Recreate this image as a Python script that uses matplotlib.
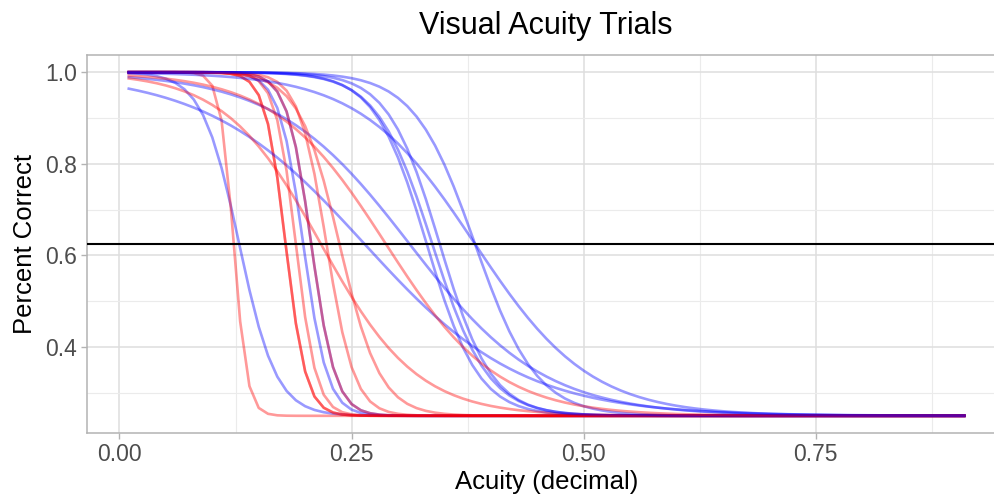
import numpy as np
import matplotlib
matplotlib.use("Agg")
import matplotlib.pyplot as plt

# Fitted psychometric functions: chance level 0.25 (4AFC), threshold at 62.5 %
red_thresholds = [0.123, 0.179, 0.179, 0.190, 0.2066, 0.217, 0.223, 0.237, 0.287]
red_scales = [0.0072, 0.011, 0.011, 0.011, 0.013, 0.052, 0.015, 0.022, 0.060]

blue_thresholds = [0.129, 0.198, 0.2066, 0.264, 0.3125, 0.331, 0.337, 0.345, 0.383, 0.383]
blue_scales = [0.020, 0.013, 0.013, 0.085, 0.072, 0.028, 0.030, 0.028, 0.033, 0.062]

acuity = np.round(np.arange(0.01, 0.9101, 0.01), 2)
chance = 0.25
criterion = 0.625


def psychometric(x, threshold, scale):
    return chance + (1 - chance) / (1 + np.exp((x - threshold) / scale))


plt.rcParams["font.family"] = ["Liberation Sans", "DejaVu Sans"]

fig = plt.figure(figsize=(9.94, 4.98), dpi=100)
ax = fig.add_axes([87 / 994, 65 / 498, 919 / 994, 378 / 498])

# draw the two conditions interleaved (blue, red, blue, ...) so shared
# stretches of the curves blend to purple
curves = []
for i in range(max(len(red_thresholds), len(blue_thresholds))):
    if i < len(blue_thresholds):
        curves.append(("blue", blue_thresholds[i], blue_scales[i]))
    if i < len(red_thresholds):
        curves.append(("red", red_thresholds[i], red_scales[i]))

for colour, t, s in curves:
    ax.plot(acuity, psychometric(acuity, t, s), color=colour, alpha=0.4, lw=1.9,
            zorder=3)

ax.axhline(criterion, color="black", lw=1.5, zorder=4)

ax.set_xlim(-0.035, 0.955)
ax.set_ylim(0.2125, 1.0375)
ax.set_xticks([0.0, 0.25, 0.5, 0.75])
ax.set_xticklabels(["0.00", "0.25", "0.50", "0.75"])
ax.set_xticks([0.125, 0.375, 0.625, 0.875], minor=True)
ax.set_yticks([0.4, 0.6, 0.8, 1.0])
ax.set_yticklabels(["0.4", "0.6", "0.8", "1.0"])
ax.set_yticks([0.3, 0.5, 0.7, 0.9], minor=True)

ax.grid(which="major", color="#DEDEDE", lw=1.1)
ax.grid(which="minor", color="#EBEBEB", lw=0.8)
ax.set_axisbelow(True)
for sp in ax.spines.values():
    sp.set_color("#B3B3B3")
    sp.set_linewidth(1.1)

ax.tick_params(which="major", length=4, width=1.0, color="#B3B3B3",
               labelcolor="#4D4D4D", labelsize=16.5, pad=3)
ax.tick_params(which="minor", length=0)

ax.set_xlabel("Acuity (decimal)", fontsize=18.5, labelpad=3)
ax.set_ylabel("Percent Correct", fontsize=18.5, labelpad=6)
fig.text(546 / 994, 1 - 26 / 498, "Visual Acuity Trials", ha="center", va="center",
         fontsize=22)

fig.savefig("out.png", dpi=100)
